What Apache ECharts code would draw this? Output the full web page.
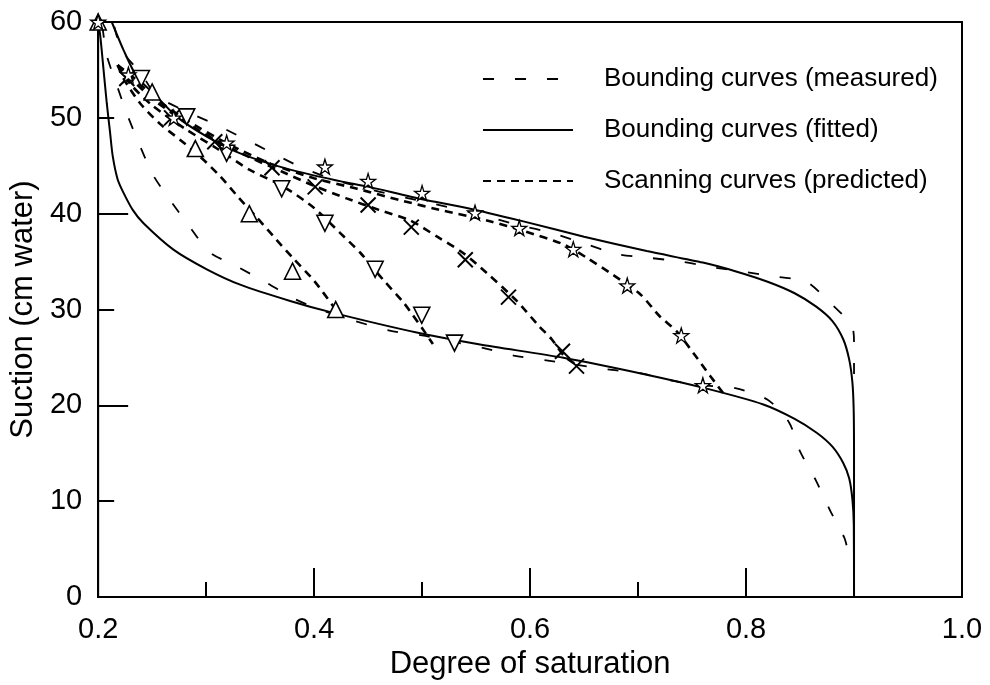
<!DOCTYPE html>
<html>
<head>
<meta charset="utf-8">
<script src="https://cdn.jsdelivr.net/npm/echarts@6/dist/echarts.min.js"></script>
<style>html,body{margin:0;padding:0;background:#fff}#c{width:990px;height:685px}</style>
</head>
<body>
<div id="c"></div>
<script>
// ---- data ----
const xTitle = 'Degree of saturation';
const yTitle = 'Suction (cm water)';
const legendNames = ['Bounding curves (measured)', 'Bounding curves (fitted)', 'Scanning curves (predicted)'];

const fittedDrying = [[0.2126,60],[0.2234,57.1],[0.2358,54.3],[0.2544,52.2],[0.2729,50.1],[0.3006,48.05],[0.3315,46.3],[0.3778,44.6],[0.424,43.4],[0.4488,42.85],[0.5,41.5],[0.5414,40.6],[0.5938,39.2],[0.65,37.6],[0.708,36.1],[0.76,34.9],[0.79,34.0],[0.82,32.9],[0.845,31.7],[0.865,30.3],[0.88,28.8],[0.89,26.9],[0.8955,24.8],[0.8985,22.4],[0.8997,19.5],[0.9,15],[0.9,0]];
const fittedWetting = [[0.2,60],[0.202,58.5],[0.205,55],[0.208,51.5],[0.211,48.5],[0.2135,46],[0.218,43.6],[0.2234,42.2],[0.232,40.4],[0.242,39.0],[0.2697,36.25],[0.3006,34.2],[0.3315,32.6],[0.3778,30.9],[0.4179,29.65],[0.495,27.6],[0.5537,26.35],[0.6308,24.97],[0.708,23.2],[0.7636,21.75],[0.816,20.1],[0.845,18.6],[0.8654,17.15],[0.88,15.7],[0.89,14.0],[0.8955,12.4],[0.8985,10.2],[0.8998,7.5],[0.9,0]];
const measuredDrying = [[0.215,59.5],[0.222,57],[0.24,54.6],[0.254,52.3],[0.283,50.6],[0.309,49.3],[0.334,47.9],[0.362,46.3],[0.387,44.9],[0.42,43.5],[0.46,42.3],[0.5,41.3],[0.55,40.0],[0.59,38.8],[0.62,38.0],[0.65,36.9],[0.68,35.8],[0.71,35.4],[0.74,35.0],[0.77,34.4],[0.8,33.9],[0.83,33.4],[0.856,32.9],[0.878,30.7],[0.898,28.3],[0.9,26.5],[0.9,22]];
const measuredWetting = [[0.204,59.5],[0.208,56.5],[0.217,53.5],[0.227,50.3],[0.239,47],[0.251,44],[0.268,41.2],[0.285,38.6],[0.303,36],[0.33,34.4],[0.356,32.8],[0.382,31.1],[0.41,29.8],[0.438,28.8],[0.47,27.8],[0.5,27.3],[0.53,26.6],[0.56,25.9],[0.585,25.2],[0.615,24.7],[0.645,24.2],[0.672,23.75],[0.705,23.3],[0.73,22.6],[0.76,22.1],[0.79,21.8],[0.82,20.6],[0.84,18.2],[0.85,15.2],[0.865,12.1],[0.878,9],[0.891,6.2],[0.894,5]];

const scanA = [[0.218,55.5],[0.224,54],[0.239,51.5],[0.257,49.4],[0.276,47.7],[0.294,46.0],[0.313,43.9],[0.33,41.7],[0.347,39.6],[0.365,37.3],[0.381,35.3],[0.4,33.0],[0.418,30.3],[0.422,29.6]];
const scanB = [[0.218,55.5],[0.23,53.5],[0.25,51.3],[0.28,48.9],[0.31,46.8],[0.34,44.6],[0.372,42.8],[0.4,40.6],[0.424,38],[0.443,35.9],[0.464,33.1],[0.483,30.7],[0.501,27.9],[0.51,26.4]];
const scanC = [[0.218,55.5],[0.235,53.6],[0.25,52],[0.28,49.6],[0.31,47.6],[0.34,45.9],[0.37,44.4],[0.4,42.9],[0.43,41.6],[0.46,40.4],[0.489,39.3],[0.514,37.6],[0.538,35.9],[0.56,33.8],[0.5877,30.9],[0.608,28.3],[0.62,26.9],[0.632,25.1],[0.645,24.1]];
const scanD = [[0.218,55.5],[0.235,54],[0.25,52.3],[0.28,49.9],[0.32,47.3],[0.36,45.2],[0.4,43.7],[0.44,42.6],[0.48,41.4],[0.52,40.3],[0.56,39.3],[0.594,38.2],[0.631,36.8],[0.6525,35.4],[0.677,33.6],[0.702,31.6],[0.72,29.3],[0.736,27.7],[0.751,25.5],[0.767,23.05],[0.78,21.1]];

const ptsTriUp = [[0.2,60],[0.25,52.7],[0.29,46.8],[0.34,40],[0.38,34],[0.42,30]];
const ptsTriDown = [[0.24,54.1],[0.282,50.1],[0.319,46.3],[0.37,42.6],[0.41,39.0],[0.4565,34.2],[0.4997,29.4],[0.53,26.5]];
const ptsCross = [[0.2265,54.1],[0.268,50],[0.308,47.5],[0.361,44.8],[0.401,42.8],[0.45,40.9],[0.49,38.6],[0.54,35.2],[0.58,31.3],[0.63,25.65],[0.643,24.1]];
const ptsStar = [[0.2,60],[0.228,54.5],[0.27,50],[0.319,47.4],[0.41,44.9],[0.45,43.4],[0.5,42.15],[0.549,40.1],[0.59,38.5],[0.64,36.3],[0.69,32.5],[0.74,27.3],[0.76,22.1]];

// ---- chart ----
const FONT = 'Liberation Sans, Arial, sans-serif';
const chart = echarts.init(document.getElementById('c'), null, {renderer: 'canvas'});

const measuredStyle = {color: '#000', width: 1.8, type: [11, 21]};
const fittedStyle = {color: '#000', width: 2, type: 'solid'};
const scanStyle = {color: '#000', width: 2.6, type: [8, 6]};

function lineSeries(name, data, style) {
  return {type: 'line', name: name, data: data, symbol: 'none', smooth: 0.25,
    lineStyle: style, itemStyle: {color: '#000'}, z: 3, animation: false};
}
function markerSeries(data, symbol, size, rotate, bw) {
  return {type: 'scatter', data: data, symbol: symbol, symbolSize: size, symbolRotate: rotate || 0,
    itemStyle: {color: '#fff', borderColor: '#000', borderWidth: bw, opacity: 1}, z: 5, animation: false};
}
const starPath = 'path://M50,0 L61,35 L98,35 L68,57 L79,91 L50,70 L21,91 L32,57 L2,35 L39,35 Z';
const crossPath = 'path://M0,0L10,10M10,0L0,10';

chart.setOption({
  backgroundColor: '#fff',
  animation: false,
  textStyle: {fontFamily: FONT, color: '#000'},
  grid: {left: 98, right: 28, top: 22, bottom: 87, show: true, borderColor: '#000', borderWidth: 2, containLabel: false},
  legend: {
    data: legendNames, orient: 'vertical', left: 482, top: 66, padding: 0,
    itemWidth: 90, itemHeight: 14, itemGap: 25,
    itemStyle: {color: 'rgba(0,0,0,0)', borderColor: 'rgba(0,0,0,0)', borderWidth: 0, opacity: 0},
    textStyle: {fontSize: 26, fontFamily: FONT, color: '#000', padding: [0, 0, 0, 26]},
    selectedMode: false
  },
  xAxis: [{
    type: 'value', min: 0.2, max: 1.0, interval: 0.2,
    name: xTitle, nameLocation: 'middle', nameGap: 50,
    nameTextStyle: {fontSize: 31, fontFamily: FONT, color: '#000'},
    axisLine: {show: true, lineStyle: {color: '#000', width: 2}},
    axisTick: {show: true, inside: true, length: 29, lineStyle: {color: '#000', width: 2}},
    minorTick: {show: true, splitNumber: 2, length: 15, lineStyle: {color: '#000', width: 2}},
    axisLabel: {fontSize: 29, fontFamily: FONT, color: '#000', margin: 18, formatter: v => v.toFixed(1)},
    splitLine: {show: false}
  }],
  yAxis: [{
    type: 'value', min: 0, max: 60, interval: 10,
    name: yTitle, nameLocation: 'middle', nameGap: 54,
    nameTextStyle: {fontSize: 31, fontFamily: FONT, color: '#000'},
    axisLine: {show: true, lineStyle: {color: '#000', width: 2}},
    axisTick: {show: true, inside: true, length: 16, lineStyle: {color: '#000', width: 2}},
    axisLabel: {fontSize: 29, fontFamily: FONT, color: '#000', margin: 16},
    splitLine: {show: false}
  }, {
    type: 'value', min: 0, max: 60, interval: 20, position: 'left',
    axisLine: {show: false},
    axisTick: {show: true, inside: true, length: 30, lineStyle: {color: '#000', width: 2}},
    axisLabel: {show: false}, splitLine: {show: false}
  }],
  series: [
    lineSeries(legendNames[0], measuredDrying, measuredStyle),
    lineSeries(legendNames[0], measuredWetting, measuredStyle),
    lineSeries(legendNames[1], fittedDrying, fittedStyle),
    lineSeries(legendNames[1], fittedWetting, fittedStyle),
    lineSeries(legendNames[2], scanA, scanStyle),
    lineSeries(legendNames[2], scanB, scanStyle),
    lineSeries(legendNames[2], scanC, scanStyle),
    lineSeries(legendNames[2], scanD, scanStyle),
    markerSeries(ptsTriUp, 'triangle', 16, 0, 1.6),
    markerSeries(ptsTriDown, 'triangle', 16, 180, 1.6),
    markerSeries(ptsCross, crossPath, 15, 0, 2),
    markerSeries(ptsStar, starPath, 15, 0, 1.3)
  ]
});
</script>
</body>
</html>
